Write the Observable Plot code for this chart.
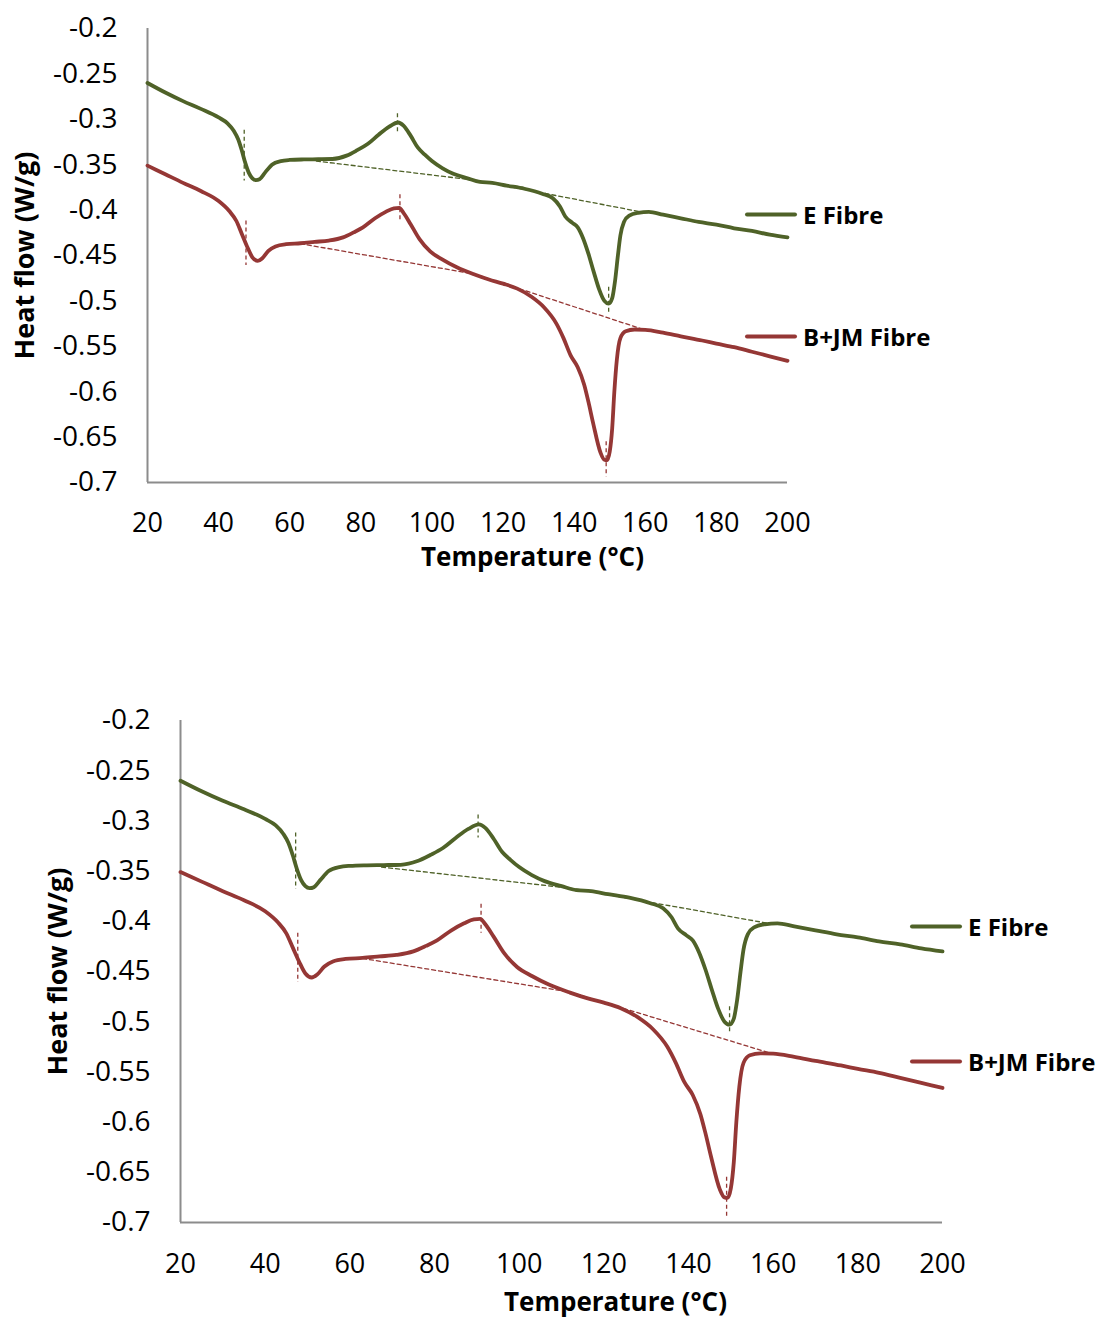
<!DOCTYPE html>
<html><head><meta charset="utf-8">
<script src="https://cdn.jsdelivr.net/npm/d3@7"></script>
<script src="https://cdn.jsdelivr.net/npm/@observablehq/plot@0.6"></script>
<style>
body{margin:0;background:#fff;font-family:"Open Sans",sans-serif;color:#000;}
.panel{position:relative;width:1105px;}
.panel svg{display:block;}
.legend{position:absolute;display:flex;align-items:center;font-weight:bold;font-size:24px;white-space:nowrap;transform:translateY(-50%);}
.legend .sw{width:52px;height:4px;margin-right:6px;border-radius:2px;}
</style></head><body><div id="root"></div>
<script>
// Temperature (°C) and heat flow (W/g)
const eT = [20,25,30,35,40,42.5,44.3,45.5,46.5,47.5,48.5,49.5,50.5,51.5,53,55,57.5,60,64,68,72,76,79,82,85,88,90.5,92,94,96,98,100,103,106,110,113.5,117,121,126,131,134,136,137.5,139.5,141,142.5,144,145.5,147,148.5,149.7,150.7,151.5,152.3,153,154,155.5,158,161,165,170,175,180,185,190,195,200];
const eV = [-0.260,-0.2705,-0.280,-0.2885,-0.298,-0.3045,-0.313,-0.322,-0.334,-0.348,-0.359,-0.365,-0.367,-0.366,-0.359,-0.350,-0.346,-0.3448,-0.3442,-0.344,-0.3437,-0.340,-0.334,-0.327,-0.317,-0.308,-0.3035,-0.307,-0.318,-0.331,-0.339,-0.346,-0.354,-0.360,-0.365,-0.369,-0.370,-0.373,-0.3765,-0.382,-0.387,-0.396,-0.407,-0.414,-0.419,-0.431,-0.448,-0.468,-0.487,-0.500,-0.503,-0.497,-0.478,-0.450,-0.428,-0.413,-0.406,-0.403,-0.402,-0.405,-0.409,-0.413,-0.416,-0.420,-0.423,-0.427,-0.430];
const bT = [20,25,30,35,40,43,45,46.5,48,49.5,51,52.3,54,56,59,63,67,71,75,78,80.6,84,87,89.3,90.8,92,94,96.5,99.5,103,107,112,116,120,124,128,131.5,135,137,139,141,142.8,144,145.3,147.4,148.5,149.2,150,150.7,151.3,152,153,154.5,157,160,165,170,176,180,185,190,195,200];
const bV = [-0.351,-0.3605,-0.370,-0.379,-0.390,-0.401,-0.412,-0.426,-0.440,-0.452,-0.456,-0.453,-0.445,-0.440,-0.4375,-0.4365,-0.435,-0.4335,-0.430,-0.4245,-0.419,-0.409,-0.402,-0.398,-0.3975,-0.403,-0.4155,-0.432,-0.4455,-0.4545,-0.463,-0.471,-0.4765,-0.481,-0.4865,-0.4955,-0.507,-0.525,-0.541,-0.560,-0.573,-0.592,-0.611,-0.634,-0.667,-0.675,-0.6755,-0.666,-0.640,-0.600,-0.565,-0.541,-0.5335,-0.5315,-0.5318,-0.535,-0.539,-0.5436,-0.547,-0.551,-0.556,-0.561,-0.566];
// dashed baselines
const eBaseT = [67.5,113,159.5];
const eBaseV = [-0.346,-0.3675,-0.4025];
const bBaseT = [63,112,159.5];
const bBaseV = [-0.437,-0.4705,-0.5315];
// vertical dashed markers
const eMarkT = [47.2,90.3,149.7];
const eMarkTop = [-0.312,-0.294,-0.485];
const eMarkBot = [-0.368,-0.317,-0.513];
const bMarkT = [47.7,91,149];
const bMarkTop = [-0.412,-0.383,-0.655];
const bMarkBot = [-0.461,-0.412,-0.694];
// axes
const xTicks = [20,40,60,80,100,120,140,160,180,200];
const yTicks = [-0.2,-0.25,-0.3,-0.35,-0.4,-0.45,-0.5,-0.55,-0.6,-0.65,-0.7];
const yTickLabels = ["-0.2","-0.25","-0.3","-0.35","-0.4","-0.45","-0.5","-0.55","-0.6","-0.65","-0.7"];
const seriesNames = ["E Fibre","B+JM Fibre"];
const colors = ["#4f6228","#953735"];
const xTitle = "Temperature (°C)";
const yTitle = "Heat flow (W/g)";

const pts = (T,V)=>T.map((t,i)=>({t, v:V[i]}));
const eData = pts(eT,eV), bData = pts(bT,bV);
const eBase = pts(eBaseT,eBaseV), bBase = pts(bBaseT,bBaseV);
const marks = (T,A,B)=>T.map((t,i)=>({t, top:A[i], bot:B[i]}));
const eMarks = marks(eMarkT,eMarkTop,eMarkBot), bMarks = marks(bMarkT,bMarkTop,bMarkBot);

function panel(cfg){
  const div = document.createElement("div");
  div.className = "panel";
  const plot = Plot.plot({
    width:1105, height:cfg.height,
    marginLeft:cfg.ml, marginRight:cfg.mr, marginTop:cfg.mt, marginBottom:cfg.mb,
    style:{fontFamily:"'Open Sans', sans-serif", color:"#000", background:"#fff", overflow:"visible"},
    x:{domain:[20,200]},
    y:{domain:[-0.7,-0.2]},
    marks:[
      Plot.axisY({ticks:yTicks, tickFormat:(d,i)=>yTickLabels[i], tickSize:0, tickPadding:30, fontSize:28, label:null}),
      Plot.axisX({ticks:xTicks, tickSize:0, tickPadding:cfg.xPad, fontSize:27, label:null}),
      Plot.ruleX([20], {stroke:"#8c8c8c", strokeWidth:2}),
      Plot.ruleY([-0.7], {stroke:"#8c8c8c", strokeWidth:2}),
      Plot.line(eBase, {x:"t", y:"v", stroke:colors[0], strokeWidth:1.3, strokeDasharray:"4 3"}),
      Plot.line(bBase, {x:"t", y:"v", stroke:colors[1], strokeWidth:1.3, strokeDasharray:"4 3"}),
      Plot.ruleX(eMarks, {x:"t", y1:"top", y2:"bot", stroke:colors[0], strokeWidth:1.3, strokeDasharray:"4 3"}),
      Plot.ruleX(bMarks, {x:"t", y1:"top", y2:"bot", stroke:colors[1], strokeWidth:1.3, strokeDasharray:"4 3"}),
      Plot.line(eData, {x:"t", y:"v", stroke:colors[0], strokeWidth:3.8, curve:"monotone-x"}),
      Plot.line(bData, {x:"t", y:"v", stroke:colors[1], strokeWidth:3.8, curve:"monotone-x"}),
      Plot.text([xTitle], {text:d=>d, frameAnchor:"bottom", lineAnchor:"middle", dx:cfg.xTitleDx, dy:cfg.xTitleDy, fontSize:26, fontWeight:"bold", fill:"#000"}),
      Plot.text([yTitle], {text:d=>d, frameAnchor:"left", textAnchor:"middle", lineAnchor:"middle", rotate:-90, dx:cfg.yTitleDx, fontSize:27, fontWeight:"bold", fill:"#000"})
    ]
  });
  div.appendChild(plot);
  seriesNames.forEach((name,i)=>{
    const lg = document.createElement("div");
    lg.className = "legend";
    lg.style.left = cfg.legX + "px";
    lg.style.top = cfg.legY[i] + "px";
    const sw = document.createElement("div");
    sw.className = "sw"; sw.style.background = colors[i];
    const tx = document.createElement("span");
    tx.textContent = name;
    lg.appendChild(sw); lg.appendChild(tx);
    div.appendChild(lg);
  });
  return div;
}

const root = document.getElementById("root");
root.appendChild(panel({height:640, ml:147, mr:318, mt:28, mb:158, xPad:30, xTitleDx:65, xTitleDy:75, yTitleDx:-122, legX:745, legY:[214,336]}));
root.appendChild(panel({height:678, ml:180, mr:163, mt:80, mb:96, xPad:31, xTitleDx:54, xTitleDy:80, yTitleDx:-122, legX:910, legY:[286,421]}));
</script>
</body></html>
